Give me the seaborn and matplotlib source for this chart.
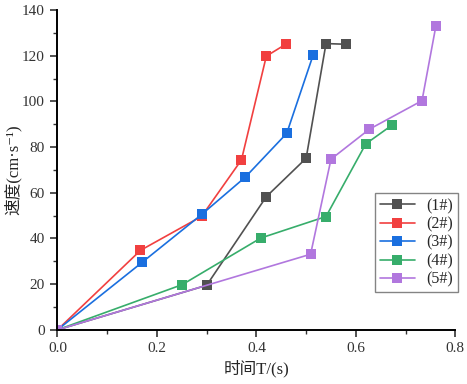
import matplotlib
matplotlib.use("Agg")
import matplotlib.pyplot as plt
import numpy as np
import pandas as pd
import seaborn as sns
from matplotlib.ticker import MultipleLocator

# data
labels = ["(1#)", "(2#)", "(3#)", "(4#)", "(5#)"]
t1 = [0.0, 0.30, 0.42, 0.50, 0.54, 0.58]
v1 = [0.0, 19.5, 58.3, 75.1, 125.3, 125.0]
t2 = [0.0, 0.167, 0.29, 0.37, 0.42, 0.459]
v2 = [0.0, 34.8, 49.7, 74.4, 119.8, 125.0]
t3 = [0.0, 0.17, 0.29, 0.378, 0.461, 0.514]
v3 = [0.0, 29.5, 50.5, 66.9, 86.0, 120.2]
t4 = [0.0, 0.251, 0.409, 0.54, 0.62, 0.672]
v4 = [0.0, 19.8, 40.2, 49.6, 81.4, 89.5]
t5 = [0.0, 0.509, 0.55, 0.627, 0.733, 0.761]
v5 = [0.0, 33.1, 74.7, 87.8, 100.3, 133.1]

colors = ["#515151", "#F14040", "#1A6FDF", "#37AD6B", "#B177DE"]

frames = []
for lab, t, v in zip(labels, [t1, t2, t3, t4, t5], [v1, v2, v3, v4, v5]):
    frames.append(pd.DataFrame({"t": t, "v": v, "sample": lab}))
df = pd.concat(frames, ignore_index=True)

sns.set_style("ticks")
plt.rcParams["font.family"] = ["Liberation Serif", "Noto Sans CJK SC", "DejaVu Sans"]

fig = plt.figure(figsize=(4.67, 3.84), dpi=100)
ax = fig.add_axes([0.123, 0.141, 0.852, 0.833])

sns.lineplot(
    data=df, x="t", y="v", hue="sample", hue_order=labels, palette=colors,
    style="sample", markers=["s"] * 5, dashes=False, sort=False,
    estimator=None, markersize=6.5, linewidth=1.2,
    markeredgewidth=0, ax=ax,
)

ax.set_xlim(0, 0.8)
ax.set_ylim(0, 140)
ax.xaxis.set_minor_locator(MultipleLocator(0.1))
ax.yaxis.set_major_locator(MultipleLocator(20))
ax.yaxis.set_minor_locator(MultipleLocator(10))
ax.set_xticks(np.arange(0, 0.81, 0.2))
ax.set_xticklabels([f"{x:.1f}" for x in np.arange(0, 0.81, 0.2)])
ax.tick_params(which="major", direction="out", length=5, width=1.2, labelsize=11,
               colors="#333333", pad=4)
ax.tick_params(which="minor", direction="out", length=3, width=1.0, colors="#333333")
for s in ["left", "bottom"]:
    ax.spines[s].set_linewidth(1.4)
    ax.spines[s].set_color("black")
sns.despine(ax=ax)

mixed = ["Liberation Serif", "Noto Sans CJK SC", "DejaVu Sans"]
ax.set_xlabel("时间T/(s)", fontsize=12, family=mixed, labelpad=3)
ax.set_ylabel("速度(cm·s⁻¹)", fontsize=12, family=mixed)
ax.yaxis.set_label_coords(-0.09, 0.5)

leg = ax.legend(
    loc="upper left", bbox_to_anchor=(0.803, 0.497), bbox_transform=fig.transFigure,
    frameon=True, fancybox=False, edgecolor="#666666", handlelength=2.2,
    borderpad=0.3, labelspacing=0.15, handletextpad=0.7, borderaxespad=0,
    prop={"family": "Liberation Serif", "size": 11.5},
)
leg.get_frame().set_linewidth(1.0)

fig.savefig("out.png", dpi=100)
